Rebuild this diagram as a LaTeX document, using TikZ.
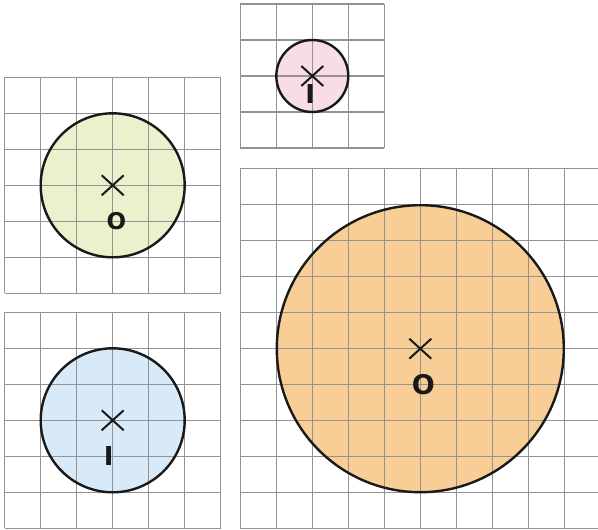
\documentclass[tikz,border=0pt]{standalone}
\usepackage{fontspec}
\newfontfamily\labfont{DejaVu Sans}
\definecolor{gridgray}{HTML}{939393}
\definecolor{fgreen}{HTML}{EBF0CD}
\definecolor{fpink}{HTML}{F8DCE6}
\definecolor{fblue}{HTML}{D8EAF8}
\definecolor{forange}{HTML}{F9CD96}
\tikzset{
  gridline/.style={draw=gridgray, line width=1.2pt},
  disc/.style={circle, draw=black!90, line width=2.4pt, inner sep=0pt, outer sep=0pt},
  crossline/.style={draw=black!90, line width=2pt},
  lab/.style={inner sep=0pt, font=\labfont\bfseries\fontsize{23}{23}\selectfont, text=black!90},
}
\begin{document}
\begin{tikzpicture}[x=1pt,y=-1pt]
\useasboundingbox (0,0) rectangle (598,530);
% grids
\foreach \i in {0,...,6} {
  \draw[gridline] (4.7+36*\i,77.3) -- (4.7+36*\i,293.3);
  \draw[gridline] (4.7,77.3+36*\i) -- (220.7,77.3+36*\i);
  \draw[gridline] (4.7+36*\i,312.3) -- (4.7+36*\i,528.3);
  \draw[gridline] (4.7,312.3+36*\i) -- (220.7,312.3+36*\i);
}
\foreach \i in {0,...,4} {
  \draw[gridline] (240.3+36*\i,4) -- (240.3+36*\i,148);
  \draw[gridline] (240.3,4+36*\i) -- (384.3,4+36*\i);
}
\foreach \i in {0,...,9} {
  \draw[gridline] (240.3+36*\i,168.7) -- (240.3+36*\i,528.7);
}
\foreach \i in {0,...,10} {
  \draw[gridline] (240.3,168.7+36*\i) -- (598,168.7+36*\i);
}
% circle fills
\fill[fgreen] (112.7,185.3) circle[radius=72];
\fill[fpink] (312.3,76) circle[radius=36];
\fill[fblue] (112.7,420.3) circle[radius=72];
\fill[forange] (420.3,348.7) circle[radius=143.5];
% grid lines on top of the fills
\begin{scope}
\clip (112.7,185.3) circle[radius=72];
\foreach \i in {0,...,6} {
  \draw[gridline] (4.7+36*\i,77.3) -- (4.7+36*\i,293.3);
  \draw[gridline] (4.7,77.3+36*\i) -- (220.7,77.3+36*\i);
}
\end{scope}
\begin{scope}
\clip (112.7,420.3) circle[radius=72];
\foreach \i in {0,...,6} {
  \draw[gridline] (4.7+36*\i,312.3) -- (4.7+36*\i,528.3);
  \draw[gridline] (4.7,312.3+36*\i) -- (220.7,312.3+36*\i);
}
\end{scope}
\begin{scope}
\clip (312.3,76) circle[radius=36];
\foreach \i in {0,...,4} {
  \draw[gridline] (240.3+36*\i,4) -- (240.3+36*\i,148);
  \draw[gridline] (240.3,4+36*\i) -- (384.3,4+36*\i);
}
\end{scope}
\begin{scope}
\clip (420.3,348.7) circle[radius=143.5];
\foreach \i in {0,...,9} {
  \draw[gridline] (240.3+36*\i,168.7) -- (240.3+36*\i,528.7);
}
\foreach \i in {0,...,10} {
  \draw[gridline] (240.3,168.7+36*\i) -- (598,168.7+36*\i);
}
\end{scope}
% outlines as named nodes
\node[disc, minimum size=144pt] (cgreen) at (112.7,185.3) {};
\node[disc, minimum size=72pt] (cpink) at (312.3,76) {};
\node[disc, minimum size=144pt] (cblue) at (112.7,420.3) {};
\node[disc, minimum size=287pt] (corange) at (420.3,348.7) {};
% centre crosses
\foreach \c in {cgreen,cpink,cblue,corange} {
  \draw[crossline] ([shift={(-11,-10)}]\c.center) -- ([shift={(11,10)}]\c.center);
  \draw[crossline] ([shift={(-11,10)}]\c.center) -- ([shift={(11,-10)}]\c.center);
}
% labels
\node[lab] (lgreen) at (116.5,221.5) {O};
\node[lab, font=\labfont\bfseries\fontsize{27}{27}\selectfont] (lorange) at (423.3,385) {O};
\node[lab, font=\labfont\bfseries\fontsize{26}{26}\selectfont] (lpink) at (310.3,94.5) {I};
\node[lab, font=\labfont\bfseries\fontsize{26}{26}\selectfont] (lblue) at (108.7,456.2) {I};
\end{tikzpicture}
\end{document}
